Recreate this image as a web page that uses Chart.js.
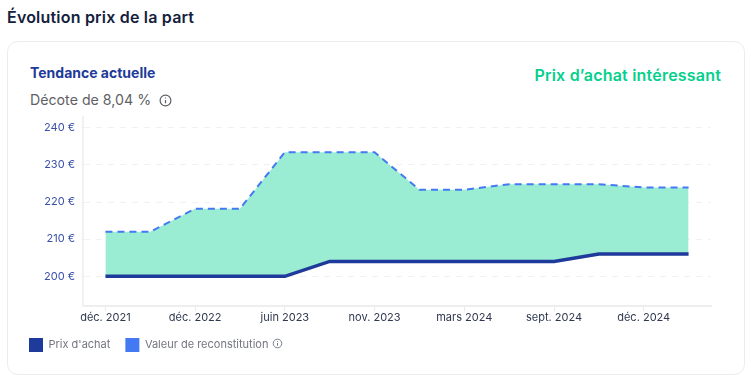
<!DOCTYPE html>
<html lang="fr">
<head>
<meta charset="utf-8">
<title>Évolution prix de la part</title>
<script src="https://cdn.jsdelivr.net/npm/chart.js@4"></script>
<style>
    html, body { margin: 0; padding: 0; background: #fff; }
    body { position: relative; width: 751px; height: 381px; overflow: hidden; font-family: Inter, sans-serif; }
    .abs { position: absolute; white-space: nowrap; }
    #titre { left: 7px; top: 7px; font-size: 16px; letter-spacing: 0.2px; line-height: 20px; font-weight: 600; color: #14213d; }
    #carte { left: 7px; top: 41px; width: 736px; height: 332px; border: 1px solid #ececee; border-radius: 11px; box-sizing: content-box; }
    #tendance { left: 30px; top: 64px; font-size: 14px; line-height: 18px; font-weight: 700; color: #1e3a9a; }
    #decote { left: 30px; top: 90px; font-size: 14.2px; line-height: 19px; color: #5f5f66; }
    #interet { right: 30px; top: 65px; font-size: 16px; letter-spacing: 0.2px; line-height: 20px; font-weight: 600; color: #05d08c; }
    #zone { left: 14px; top: 104px; width: 705px; height: 258px; }
    svg.abs { fill: none; }
</style>
</head>
<body>
<div class="abs" id="titre">Évolution prix de la part</div>
<div class="abs" id="carte"></div>
<div class="abs" id="tendance">Tendance actuelle</div>
<div class="abs" id="decote">Décote de 8,04 %</div>
<svg class="abs" style="left:159px;top:94px" width="13" height="13" viewBox="0 0 13 13" stroke="#5f5f66" stroke-width="1.2"><circle cx="6.5" cy="6.5" r="5.4"/><path d="M6.5 6v3.3M6.5 3.6v1"/></svg>
<div class="abs" id="interet">Prix d’achat intéressant</div>
<div class="abs" id="zone"><canvas id="graphique"></canvas></div>
<svg class="abs" style="left:272px;top:338px" width="11" height="11" viewBox="0 0 11 11" stroke="#6b7280" stroke-width="0.9"><circle cx="5.5" cy="5.5" r="4.3"/><path d="M5.5 5v2.8M5.5 3v.9"/></svg>
<script>
const categories = ["déc. 2021", "juin 2022", "déc. 2022", "mars 2023", "juin 2023", "sept. 2023", "nov. 2023", "janv. 2024", "mars 2024", "juin 2024", "sept. 2024", "oct. 2024", "déc. 2024", "mars 2025"];
const prixAchat = [200, 200, 200, 200, 200, 204, 204, 204, 204, 204, 204, 206, 206, 206];
const valeurReconstitution = [212, 212, 218.2, 218.2, 233.4, 233.4, 233.4, 223.3, 223.3, 224.8, 224.8, 224.8, 223.9, 223.9];
const graduations = [200, 210, 220, 230, 240];

new Chart(document.querySelector("#graphique").getContext("2d"), {
    type: "line",
    data: {
        labels: categories,
        datasets: [
            {
                label: "Prix d'achat",
                data: prixAchat,
                borderColor: "#1e3a9a",
                borderWidth: 3.5,
                pointRadius: 0,
                order: 0,
            },
            {
                label: "Valeur de reconstitution",
                data: valeurReconstitution,
                borderColor: "#4379f2",
                backgroundColor: "#9aedd2",
                borderWidth: 2,
                borderDash: [7, 5],
                pointRadius: 0,
                fill: 0,
                order: 1,
            },
        ],
    },
    options: {
        responsive: true,
        maintainAspectRatio: false,
        animation: false,
        layout: { padding: { right: 8 } },
        scales: {
            x: {
                offset: true,
                afterFit: function (axe) { axe.height = 17; },
                grid: { drawOnChartArea: false, offset: false, color: "#e9e9ec", tickLength: 5 },
                border: { color: "#eeeef0", width: 2 },
                ticks: { autoSkip: true, maxTicksLimit: 7, maxRotation: 0, padding: 0, color: "#2f3850", font: { family: "Inter", size: 11 } },
            },
            y: {
                min: 192,
                max: 243,
                afterBuildTicks: function (axe) {
                    axe.ticks = graduations.map(function (v) { return { value: v }; });
                },
                afterFit: function (axe) { axe.width = 69; },
                grid: { color: "#f1f1f3", tickLength: 2 },
                border: { color: "#f1f1f3", width: 2, dash: [6, 6] },
                ticks: {
                    padding: 6,
                    color: "#3a50a8",
                    font: { family: "Inter", size: 11 },
                    callback: function (v) { return v + " €"; },
                },
            },
        },
        plugins: {
            tooltip: { enabled: false },
            legend: {
                position: "bottom",
                align: "start",
                labels: {
                    boxWidth: 14,
                    boxHeight: 14,
                    padding: 15,
                    color: "#73767f",
                    font: { family: "Inter", size: 11 },
                    generateLabels: function (chart) {
                        return chart.data.datasets.map(function (d, i) {
                            return { text: d.label, fillStyle: d.borderColor, strokeStyle: d.borderColor, lineWidth: 0, fontColor: "#73767f", datasetIndex: i };
                        });
                    },
                },
            },
        },
    },
});
</script>
</body>
</html>
